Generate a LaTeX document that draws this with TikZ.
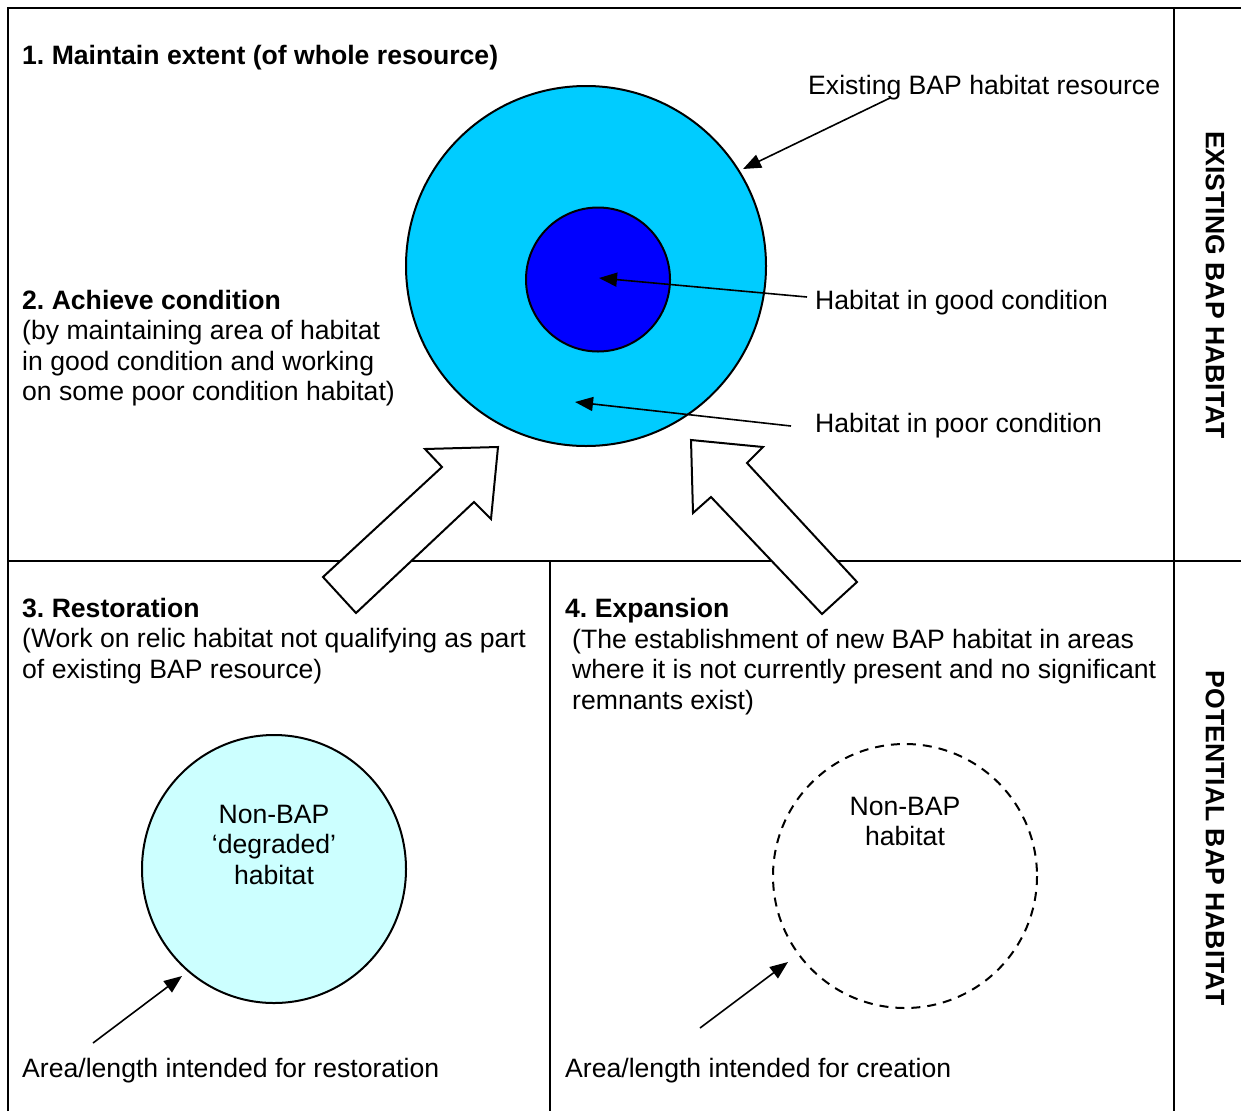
\documentclass[tikz,border=0pt]{standalone}
\usepackage{fontspec}
\setmainfont{Liberation Sans}
\usetikzlibrary{arrows.meta}
\definecolor{bapcyan}{HTML}{00CCFF}
\definecolor{bapblue}{HTML}{0000FF}
\definecolor{palecyan}{HTML}{CCFFFF}
\frenchspacing
\tikzset{
  blocktext/.style={anchor=base west,inner sep=0pt,font=\fontsize{26.6}{30.6}\selectfont},
  centretext/.style={anchor=base,inner sep=0pt,font=\fontsize{26.6}{30.6}\selectfont},
  sidetext/.style={inner sep=0pt,rotate=-90,font=\fontsize{26.6}{30.6}\selectfont\bfseries},
  leadarrow/.style={line width=1.6pt,-{Triangle[length=18pt,width=14pt]}},
  frameline/.style={line width=2pt},
  bigarrow/.style={line width=2pt,fill=white,line join=miter}
}
\begin{document}
\begin{tikzpicture}[x=1pt,y=-1pt]
\useasboundingbox (0,0) rectangle (1241,1111);
% frame
\draw[frameline] (8,1111) -- (8,8) -- (1241,8);
\draw[frameline] (1174,8) -- (1174,1111);
\draw[frameline] (8,561) -- (1241,561);
\draw[frameline] (550,561) -- (550,1111);
% existing resource
\filldraw[line width=2pt,fill=bapcyan] (586,266) circle (180);
\filldraw[line width=2pt,fill=bapblue] (598,279.5) circle (72);
% potential resource
\filldraw[line width=2pt,fill=palecyan] (274,869) ellipse (132 and 134);
\draw[line width=2pt,dash pattern=on 9pt off 7pt] (905,876) circle (132);
% block arrows
\draw[bigarrow] (498,447) -- (491,519) -- (474,502) -- (356,613) -- (323,577) -- (442,467) -- (425,449) -- cycle;
\draw[bigarrow] (691,440) -- (763,447) -- (747,463) -- (857,582) -- (822,614) -- (711,497) -- (693,513) -- cycle;
% headings and notes
\node[blocktext] (extent) at (22,64) {\textbf{1. Maintain extent (of whole resource)}};
\node[blocktext] (achieve) at (22,309) {\begin{tabular}[t]{@{}l@{}}\textbf{2. Achieve condition}\\(by maintaining area of habitat\\in good condition and working\\on some poor condition habitat)\end{tabular}};
\node[blocktext] (restore) at (22,617) {\begin{tabular}[t]{@{}l@{}}\textbf{3. Restoration}\\(Work on relic habitat not qualifying as part\\of existing BAP resource)\end{tabular}};
\node[blocktext] (expand) at (565,617) {\textbf{4. Expansion}};
\node[blocktext] (expandnote) at (572,648) {\begin{tabular}[t]{@{}l@{}}(The establishment of new BAP habitat in areas\\where it is not currently present and no significant\\remnants exist)\end{tabular}};
% labels on the circles
\node[blocktext] (resource) at (808,94) {Existing BAP habitat resource};
\node[blocktext] (goodlbl) at (815,309) {Habitat in good condition};
\node[blocktext] (poorlbl) at (815,432) {Habitat in poor condition};
\node[centretext] (degraded) at (274,823) {\begin{tabular}[t]{@{}c@{}}Non-BAP\\‘degraded’\\habitat\end{tabular}};
\node[centretext] (nonbap) at (905,815) {\begin{tabular}[t]{@{}c@{}}Non-BAP\\habitat\end{tabular}};
\node[blocktext] (restorelbl) at (22,1077) {Area/length intended for restoration};
\node[blocktext] (createlbl) at (565,1077) {Area/length intended for creation};
\node[sidetext] (existing) at (1215,285) {EXISTING BAP HABITAT};
\node[sidetext] (potential) at (1215,838) {POTENTIAL BAP HABITAT};
% pointers
\coordinate (resourcetip) at (743,169);
\coordinate (goodtip) at (599,278);
\coordinate (poortip) at (575,402);
\coordinate (restoretip) at (182,976);
\coordinate (createtip) at (788,962);
\draw[leadarrow] ([shift={(82,4)}]resource.base west) -- (resourcetip);
\draw[leadarrow] ([shift={(-8,-12)}]goodlbl.base west) -- (goodtip);
\draw[leadarrow] ([shift={(-24,-6)}]poorlbl.base west) -- (poortip);
\draw[leadarrow] ([shift={(71,-34)}]restorelbl.base west) -- (restoretip);
\draw[leadarrow] ([shift={(135,-49)}]createlbl.base west) -- (createtip);
\end{tikzpicture}
\end{document}
